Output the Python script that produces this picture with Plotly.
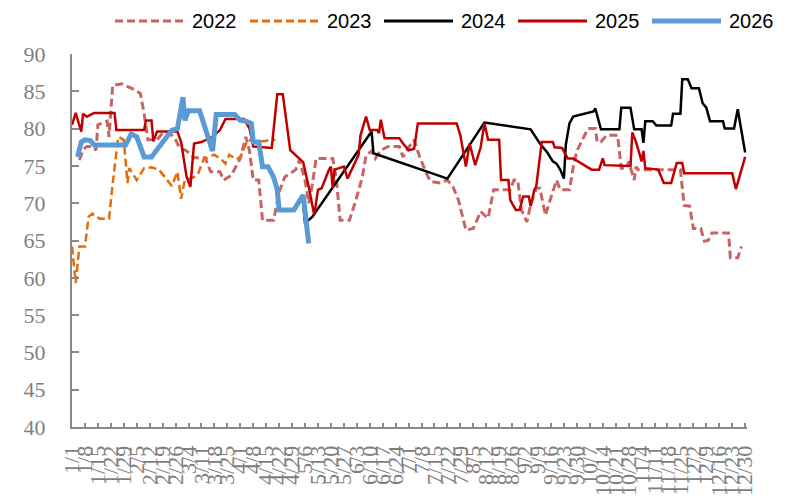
import plotly.graph_objects as go

# ---- data: day-of-year index (0 = 1/1) and index values per year ----
days_2022 = [4, 6, 8, 11, 13, 14, 19, 20, 22, 27, 34, 37, 39, 41, 46, 49, 53, 56, 58, 62,
             66, 72, 75, 80, 82, 86, 91, 94, 96, 98, 101, 103, 109, 112, 115, 121, 123, 126,
             128, 130, 132, 141, 143, 145, 150, 153, 157, 159, 162, 164, 167, 171, 177, 179,
             182, 185, 188, 192, 194, 199, 203, 206, 209, 213, 217, 221, 223, 225, 228, 237,
             239, 241, 243, 246, 248, 251, 253, 256, 258, 262, 264, 269, 271, 273, 276, 279,
             283, 284, 286, 289, 295, 297, 300, 301, 304, 305, 306, 329, 331, 334, 336, 340,
             342, 344, 346, 355, 356, 360, 362]
vals_2022 = [75.8, 77.2, 77.6, 77.6, 77.1, 80.5, 81.0, 78.9, 85.8, 86.0, 85.2, 84.7, 82.0, 78.5,
             78.5, 79.4, 79.4, 78.5, 77.5, 77.0, 76.1, 76.1, 74.2, 74.2, 73.1, 73.7, 76.0, 78.9,
             77.0, 73.1, 73.1, 67.7, 67.7, 71.5, 73.5, 74.5, 75.8, 73.1, 70.0, 72.6, 76.0, 76.0,
             73.1, 67.7, 67.7, 70.0, 73.5, 76.4, 77.0, 76.0, 77.1, 77.6, 77.6, 76.2, 77.5, 78.5,
             76.2, 73.8, 72.9, 72.7, 73.1, 72.2, 70.4, 66.4, 66.6, 68.9, 68.4, 68.0, 71.8, 71.8,
             73.1, 73.1, 69.1, 67.5, 69.8, 72.0, 72.0, 68.4, 70.0, 73.1, 71.8, 71.8, 74.8, 77.0,
             78.5, 80.0, 80.0, 78.2, 78.2, 79.1, 79.1, 74.7, 74.7, 75.6, 73.1, 74.9, 74.5, 74.5,
             69.7, 69.6, 66.6, 66.6, 64.9, 65.0, 66.0, 66.0, 62.7, 62.7, 64.2]

days_2023 = [0, 2, 4, 7, 9, 11, 15, 20, 22, 25, 28, 30, 31, 35, 39, 43, 47, 50, 54, 57, 59, 61,
             65, 68, 71, 74, 77, 81, 83, 85, 89, 91, 95, 99, 104, 110]
vals_2023 = [64.2, 59.3, 64.2, 64.2, 68.2, 68.6, 67.9, 67.9, 72.6, 78.9, 78.5, 72.7, 74.7, 73.1,
             74.7, 74.8, 74.5, 73.6, 72.3, 74.2, 70.6, 73.1, 73.4, 73.8, 75.8, 76.2, 76.5, 75.8,
             75.3, 76.5, 75.9, 76.2, 78.5, 78.2, 78.3, 78.5]

days_2024 = [125, 126, 130, 162, 163, 203, 223, 246, 248, 253, 257, 260, 262, 264, 266, 267,
             269, 271, 282, 283, 286, 296, 297, 302, 304, 308, 309, 310, 314, 316, 324, 325,
             329, 330, 333, 335, 339, 341, 343, 345, 352, 353, 358, 360, 364]
vals_2024 = [70.0, 67.3, 68.2, 79.6, 76.7, 73.3, 80.8, 79.9, 79.9, 78.0, 76.8, 75.6, 75.3, 74.5,
             73.3, 77.8, 80.7, 81.6, 82.3, 82.7, 79.9, 79.9, 82.8, 82.8, 79.9, 79.9, 78.1, 81.0,
             81.0, 80.4, 80.4, 82.0, 82.0, 86.6, 86.6, 85.4, 85.4, 83.4, 82.8, 81.0, 81.0, 80.0,
             80.0, 82.6, 76.8]

days_2025 = [0, 2, 5, 6, 8, 12, 23, 24, 39, 40, 43, 44, 46, 57, 59, 62, 64, 66, 70, 76, 80, 83,
             93, 96, 98, 108, 111, 114, 118, 123, 125, 128, 131, 133, 135, 139, 140, 141, 142,
             147, 149, 152, 155, 156, 159, 161, 165, 166, 167, 169, 177, 179, 182, 185, 187,
             208, 210, 213, 215, 218, 221, 223, 225, 231, 232, 236, 237, 240, 242, 244, 247,
             248, 250, 251, 254, 260, 261, 265, 268, 271, 281, 285, 287, 288, 302, 303, 305,
             307, 308, 309, 310, 317, 320, 324, 327, 330, 331, 357, 359, 364]
vals_2025 = [80.5, 82.1, 79.6, 82.0, 81.6, 82.1, 82.1, 79.8, 79.8, 81.1, 81.1, 78.3, 79.6, 79.6,
             78.2, 73.5, 72.2, 78.0, 78.2, 78.9, 79.8, 81.3, 81.3, 80.0, 77.6, 77.4, 84.6, 84.6,
             77.1, 76.0, 75.5, 72.2, 68.4, 71.8, 72.0, 74.5, 74.9, 72.0, 74.5, 74.9, 73.3, 74.9,
             76.5, 79.1, 81.6, 79.8, 79.8, 79.4, 81.2, 78.7, 78.7, 78.0, 77.1, 77.3, 80.7, 80.7,
             79.1, 74.9, 78.0, 75.1, 77.5, 80.7, 78.5, 78.5, 73.1, 73.1, 70.4, 69.1, 69.1, 70.9,
             70.9, 69.6, 71.8, 72.2, 78.2, 78.2, 77.5, 77.4, 76.0, 76.0, 74.5, 74.5, 76.0, 75.1,
             75.0, 79.5, 78.2, 76.5, 75.6, 77.0, 74.7, 74.5, 72.7, 72.7, 75.4, 75.4, 74.0, 74.0,
             71.9, 76.2]

days_2026 = [3, 5, 7, 10, 12, 29, 32, 35, 39, 43, 54, 57, 60, 61, 63, 69, 76, 78, 88, 91, 94,
             97, 98, 101, 103, 106, 109, 111, 112, 120, 125, 128]
vals_2026 = [76.2, 78.2, 78.5, 78.4, 77.8, 77.8, 79.3, 78.9, 76.2, 76.2, 79.8, 80.0, 84.2, 81.1,
             82.4, 82.4, 77.0, 81.9, 81.9, 81.1, 81.0, 80.7, 78.2, 78.2, 74.9, 74.9, 73.5, 71.8,
             69.1, 69.1, 71.1, 64.6]

tick_labels = ["1/1", "1/8", "1/15", "1/22", "1/29", "2/5", "2/12", "2/19", "2/26", "3/4",
               "3/11", "3/18", "3/25", "4/1", "4/8", "4/15", "4/22", "4/29", "5/6", "5/13",
               "5/20", "5/27", "6/3", "6/10", "6/17", "6/24", "7/1", "7/8", "7/15", "7/22",
               "7/29", "8/5", "8/12", "8/19", "8/26", "9/2", "9/9", "9/16", "9/23", "9/30",
               "10/7", "10/14", "10/21", "10/28", "11/4", "11/11", "11/18", "11/25", "12/2",
               "12/9", "12/16", "12/23", "12/30"]
tick_days = [7 * i for i in range(len(tick_labels))]

y_ticks = [40, 45, 50, 55, 60, 65, 70, 75, 80, 85, 90]

series = [
    ("2022", days_2022, vals_2022, dict(color="#C96464", width=3, dash="8px,4px")),
    ("2023", days_2023, vals_2023, dict(color="#E46C0A", width=2.5, dash="8px,4px")),
    ("2024", days_2024, vals_2024, dict(color="#000000", width=2.5)),
    ("2025", days_2025, vals_2025, dict(color="#C00000", width=2.5)),
    ("2026", days_2026, vals_2026, dict(color="#5B9BD5", width=5)),
]

fig = go.Figure()
for name, xs, ys, ln in series:
    fig.add_trace(go.Scatter(x=xs, y=ys, mode="lines", name=name, line=ln,
                             showlegend=False))

# ---- legend row drawn above the plot area ----
L, T, W, H = 72, 54, 675, 373
def px_to_paper_x(px):
    return (px - L) / W
def py_to_paper_y(py):
    return (T + H - py) / H

legend_starts = [115, 250, 384, 518, 652]
leg_y = py_to_paper_y(21)
for (name, _, _, ln), x0 in zip(series, legend_starts):
    fig.add_shape(type="line", xref="paper", yref="paper",
                  x0=px_to_paper_x(x0), x1=px_to_paper_x(x0 + 69), y0=leg_y, y1=leg_y,
                  line=dict(color=ln["color"], width=5 if ln["width"] >= 5 else 3,
                            dash=ln.get("dash", "solid")))
    fig.add_annotation(xref="paper", yref="paper", x=px_to_paper_x(x0 + 75), y=leg_y,
                       text=name, showarrow=False, xanchor="left", yanchor="middle",
                       font=dict(family="Liberation Sans, Arial, sans-serif",
                                 size=20, color="#000000"))

axis_font = dict(family="Liberation Serif, Times New Roman, serif", size=22, color="#7F7F7F")

fig.update_layout(
    width=797, height=498,
    margin=dict(l=L, r=797 - L - W, t=T, b=498 - T - H),
    paper_bgcolor="white", plot_bgcolor="white",
    xaxis=dict(range=[0, 365], tickmode="array", tickvals=tick_days, ticktext=tick_labels,
               tickangle=-90, tickfont=axis_font, showgrid=False, zeroline=False,
               showline=True, linecolor="#898989", linewidth=2, automargin=False,
               ticks="inside", ticklen=4, tickcolor="#898989", tickwidth=1.5,
               ticklabelstandoff=8),
    yaxis=dict(range=[40, 90], tickmode="array", tickvals=y_ticks,
               tickfont=axis_font, showgrid=False, zeroline=False,
               showline=True, linecolor="#898989", linewidth=2, automargin=False,
               ticks="inside", ticklen=7, tickcolor="#898989", tickwidth=1.5,
               ticklabelstandoff=20),
)

fig.write_html("out.html")
